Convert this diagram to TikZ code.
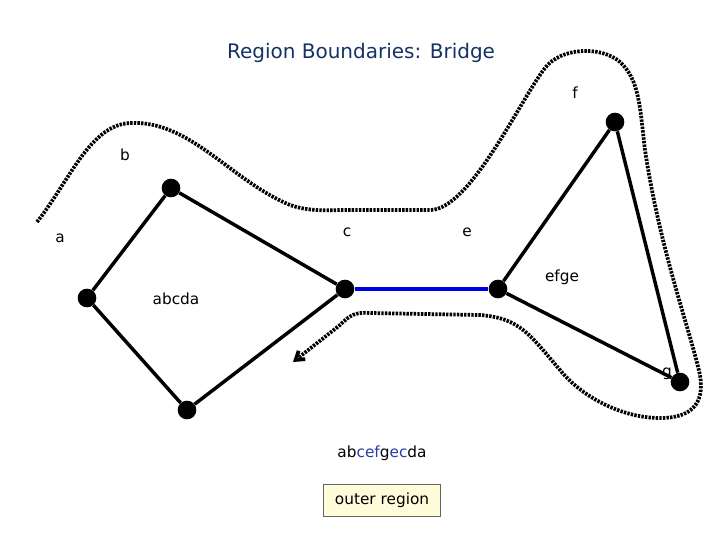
\documentclass[tikz,border=0pt]{standalone}
\usepackage{fontspec}
\setmainfont{DejaVu Sans}
\usetikzlibrary{arrows.meta}
\definecolor{ttl}{RGB}{20,50,100}
\definecolor{bl}{RGB}{40,60,170}
\begin{document}
\begin{tikzpicture}[x=0.75pt,y=-0.75pt,
  v/.style={circle,fill=black,inner sep=0pt,minimum size=14pt},
  ed/.style={line width=2.6pt},
  lab/.style={font=\fontsize{11.5}{13}\selectfont},
  bd/.style={line width=2.8pt,dash pattern=on 1.8pt off 0.9pt}]
\useasboundingbox (0,0) rectangle (720,540);
\node[font=\fontsize{15}{18}\selectfont,text=ttl] (t) at (361,53) {Region Boundaries: Bridge};
\node[v] (b) at (171,188) {};
\node[v] (a) at (87,298) {};
\node[v] (d) at (187,410) {};
\node[v] (c) at (345,289) {};
\node[v] (e) at (498,289) {};
\node[v] (f) at (615,122) {};
\node[v] (g) at (680,382) {};
\draw[ed] (b)--(c) (b)--(a) (a)--(d) (d)--(c) (e)--(f) (f)--(g) (g)--(e);
\draw[ed,blue!90!black,line width=3.5pt] (c)--(e);
\coordinate (s) at (37,222);
\coordinate (z) at (293,362);
\draw[bd,-{Straight Barb[length=6pt,width=8pt]}] (s)
  .. controls (70,180) and (90,125) .. (130,123)
  .. controls (190,120) and (230,180) .. (290,205)
  .. controls (310,212) and (330,210) .. (345,210)
  -- (430,210)
  .. controls (470,210) and (520,100) .. (545,68)
  .. controls (560,48) and (600,45) .. (620,62)
  .. controls (640,80) and (640,110) .. (645,150)
  .. controls (660,250) and (690,330) .. (700,375)
  .. controls (705,405) and (690,418) .. (660,418)
  .. controls (620,418) and (580,395) .. (560,370)
  .. controls (530,335) and (520,318) .. (480,315)
  -- (370,313)
  .. controls (355,312) and (350,315) .. (340,325)
  -- (z);
\node[lab] (lf) at (575,93) {f};
\node[lab] (lb) at (125,155) {b};
\node[lab] (lc) at (347,232) {c};
\node[lab] (la) at (60,238) {a};
\node[lab] (le) at (467,232) {e};
\node[lab] (lefge) at (562,277) {efge};
\node[lab] (labcda) at (176,299) {abcda};
\node[lab] (lg) at (667,374) {g};
\node[lab] (lo) at (382,453) {ab\textcolor{bl}{cef}g\textcolor{bl}{ec}da};
\node[lab,draw=black!60,fill=yellow!15,minimum width=88pt,inner xsep=2pt,minimum height=24pt] (box) at (382,500) {outer region};
\end{tikzpicture}
\end{document}
